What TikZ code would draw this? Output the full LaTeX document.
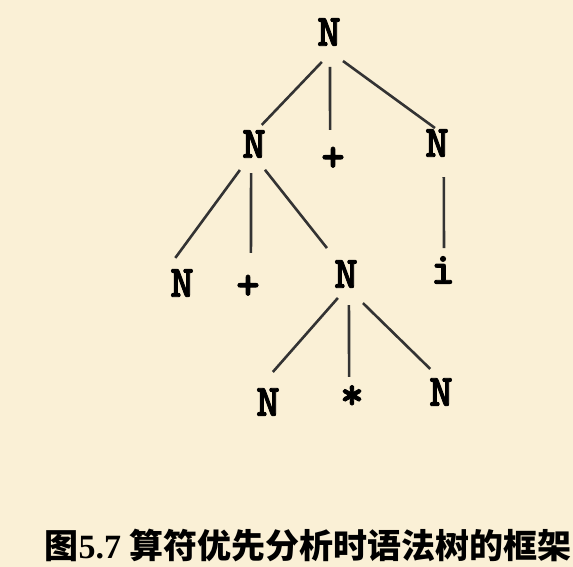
\documentclass[tikz,border=0pt]{standalone}
\usepackage{fontspec}
\setmainfont{Liberation Serif}
\newfontfamily\symfont{Latin Modern Mono Light}[BoldFeatures={FakeBold=2}]
\newfontfamily\cjk{Noto Sans CJK SC}
\definecolor{paper}{RGB}{250,240,214}
\begin{document}
\begin{tikzpicture}[x=1pt, y=-1pt,
    sym/.style={circle, minimum size=56pt, inner sep=0pt, outer sep=0pt,
        font=\symfont\bfseries\fontsize{45}{45}\selectfont},
    edge/.style={line width=2.6pt, black!80}]
    \fill[paper] (0,0) rectangle (573,567);
    \useasboundingbox (0,0) rectangle (573,567);

    % Tree nodes
    \node[sym] (root) at (329,32) {N};
    \node[sym] (nl) at (254,144) {N};
    \node[sym] (plus1) at (333,159) {+};
    \node[sym] (nr) at (437,143) {N};
    \node[sym] (nll) at (182,283) {N};
    \node[sym] (plus2) at (248,287) {+};
    \node[sym] (nm) at (346,274) {N};
    \node[sym] (idn) at (443,270) {i};
    \node[sym] (nbl) at (268,402) {N};
    \node[sym] (star) at (352,394) {\smash{\raisebox{-15pt}{*}}};
    \node[sym] (nbr) at (441,392) {N};

    % Branches
    \draw[edge, shorten <=3.3pt, shorten >=-7.8pt] (root.260) -- (nl.62);
    \draw[edge, shorten <=7pt, shorten >=1.2pt] (root.272) -- (plus1.96);
    \draw[edge, shorten <=4.9pt, shorten >=-15.3pt] (root.291) -- (nr.121);
    \draw[edge, shorten <=1.6pt, shorten >=-3.1pt] (nl.242) -- (nll.100);
    \draw[edge, shorten <=1.2pt, shorten >=6.2pt] (nl.264) -- (plus2.84);
    \draw[edge, shorten >=4.2pt] (nl.293) -- (nm.126);
    \draw[edge, shorten <=6.9pt, shorten >=-6pt] (nr.284.5) -- (idn.88);
    \draw[edge, shorten <=-2.9pt, shorten >=2.9pt] (nm.249) -- (nbl.84);
    \draw[edge, shorten <=3.2pt, shorten >=-10.8pt] (nm.276) -- (star.96);
    \draw[edge, shorten <=5.9pt, shorten >=-2.6pt] (nm.297) -- (nbr.117);

    % Caption
    \node (caption) at (308,545) {\fontsize{34}{34}\selectfont
        {\cjk\bfseries 图}{\bfseries 5.7 }{\cjk\bfseries 算符优先分析时语法树的框架}};
\end{tikzpicture}
\end{document}
